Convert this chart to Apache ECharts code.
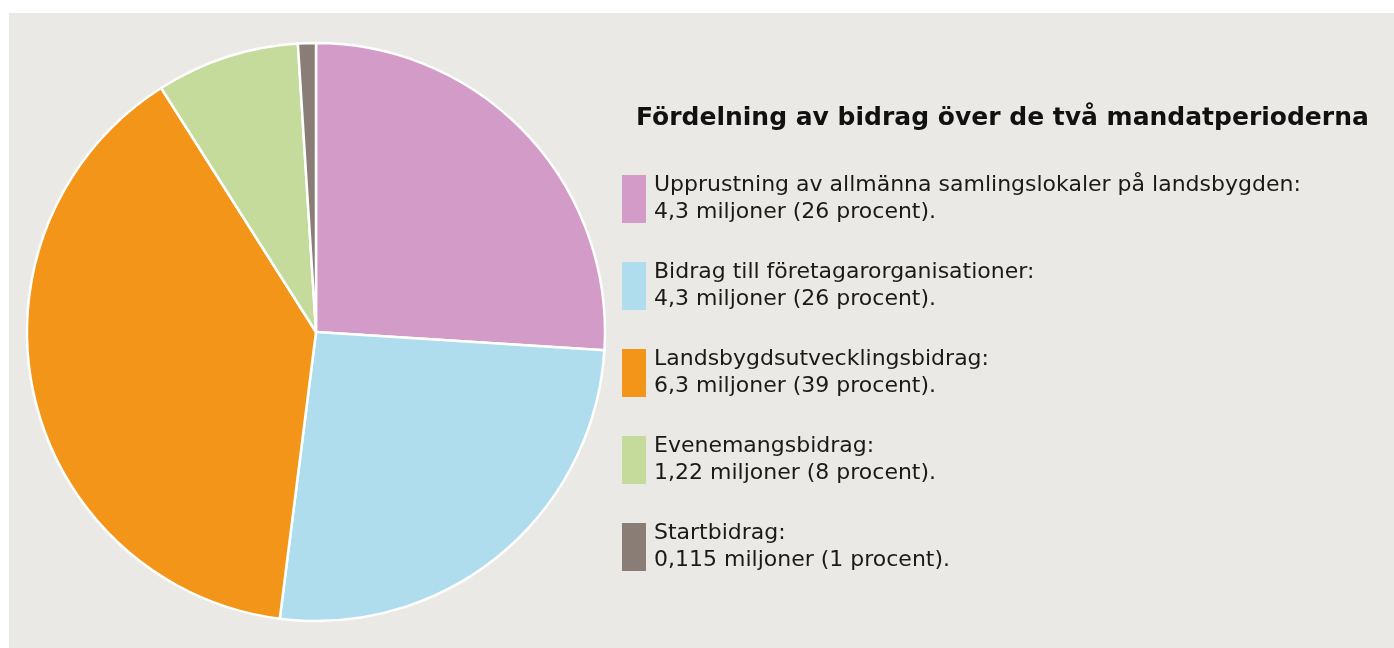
<!DOCTYPE html>
<html>
<head>
<meta charset="utf-8">
<script src="https://cdn.jsdelivr.net/npm/echarts@6/dist/echarts.min.js"></script>
<style>
  html, body { margin: 0; padding: 0; background: #ffffff; }
  #chart { width: 1394px; height: 648px; }
</style>
</head>
<body>
<div id="chart"></div>
<script>
const title = 'Fördelning av bidrag över de två mandatperioderna'
const categories = [
  'Upprustning av allmänna samlingslokaler på landsbygden:',
  'Bidrag till företagarorganisationer:',
  'Landsbygdsutvecklingsbidrag:',
  'Evenemangsbidrag:',
  'Startbidrag:'
]
const millions = ['4,3', '4,3', '6,3', '1,22', '0,115']
const percents = [26, 26, 39, 8, 1]
const colors = ['#d39bc7', '#b0ddee', '#f39518', '#c4db9c', '#8a7d76']

const chart = echarts.init(document.getElementById('chart'))

const details = {}
categories.forEach((c, i) => {
  details[c] = millions[i] + ' miljoner (' + percents[i] + ' procent).'
})

const option = {
  animation: false,
  color: colors,
  graphic: [
    {
      type: 'rect',
      silent: true,
      z: -10,
      shape: { x: 9, y: 13, width: 1385, height: 635 },
      style: { fill: '#ebe9e5' }
    }
  ],
  title: {
    text: title,
    left: 636,
    top: 106,
    padding: 0,
    textStyle: {
      fontFamily: 'DejaVu Sans',
      fontWeight: 'bold',
      fontSize: 25,
      color: '#111111'
    }
  },
  legend: {
    orient: 'vertical',
    left: 622,
    top: 172,
    padding: 0,
    icon: 'rect',
    itemWidth: 24,
    itemHeight: 48,
    itemGap: 33,
    selectedMode: false,
    itemStyle: { borderWidth: 0 },
    data: categories,
    formatter: name => name + '\n' + details[name],
    textStyle: {
      fontFamily: 'DejaVu Sans',
      fontSize: 22,
      lineHeight: 27,
      color: '#1a1a1a',
      padding: [0, 0, 0, 3]
    }
  },
  series: [
    {
      type: 'pie',
      center: [316, 332],
      radius: 289,
      startAngle: 90,
      clockwise: true,
      label: { show: false },
      labelLine: { show: false },
      emphasis: { disabled: true },
      itemStyle: { borderColor: '#ffffff', borderWidth: 2.5 },
      data: categories.map((c, i) => ({ name: c, value: percents[i] }))
    }
  ]
}
chart.setOption(option)
</script>
</body>
</html>
